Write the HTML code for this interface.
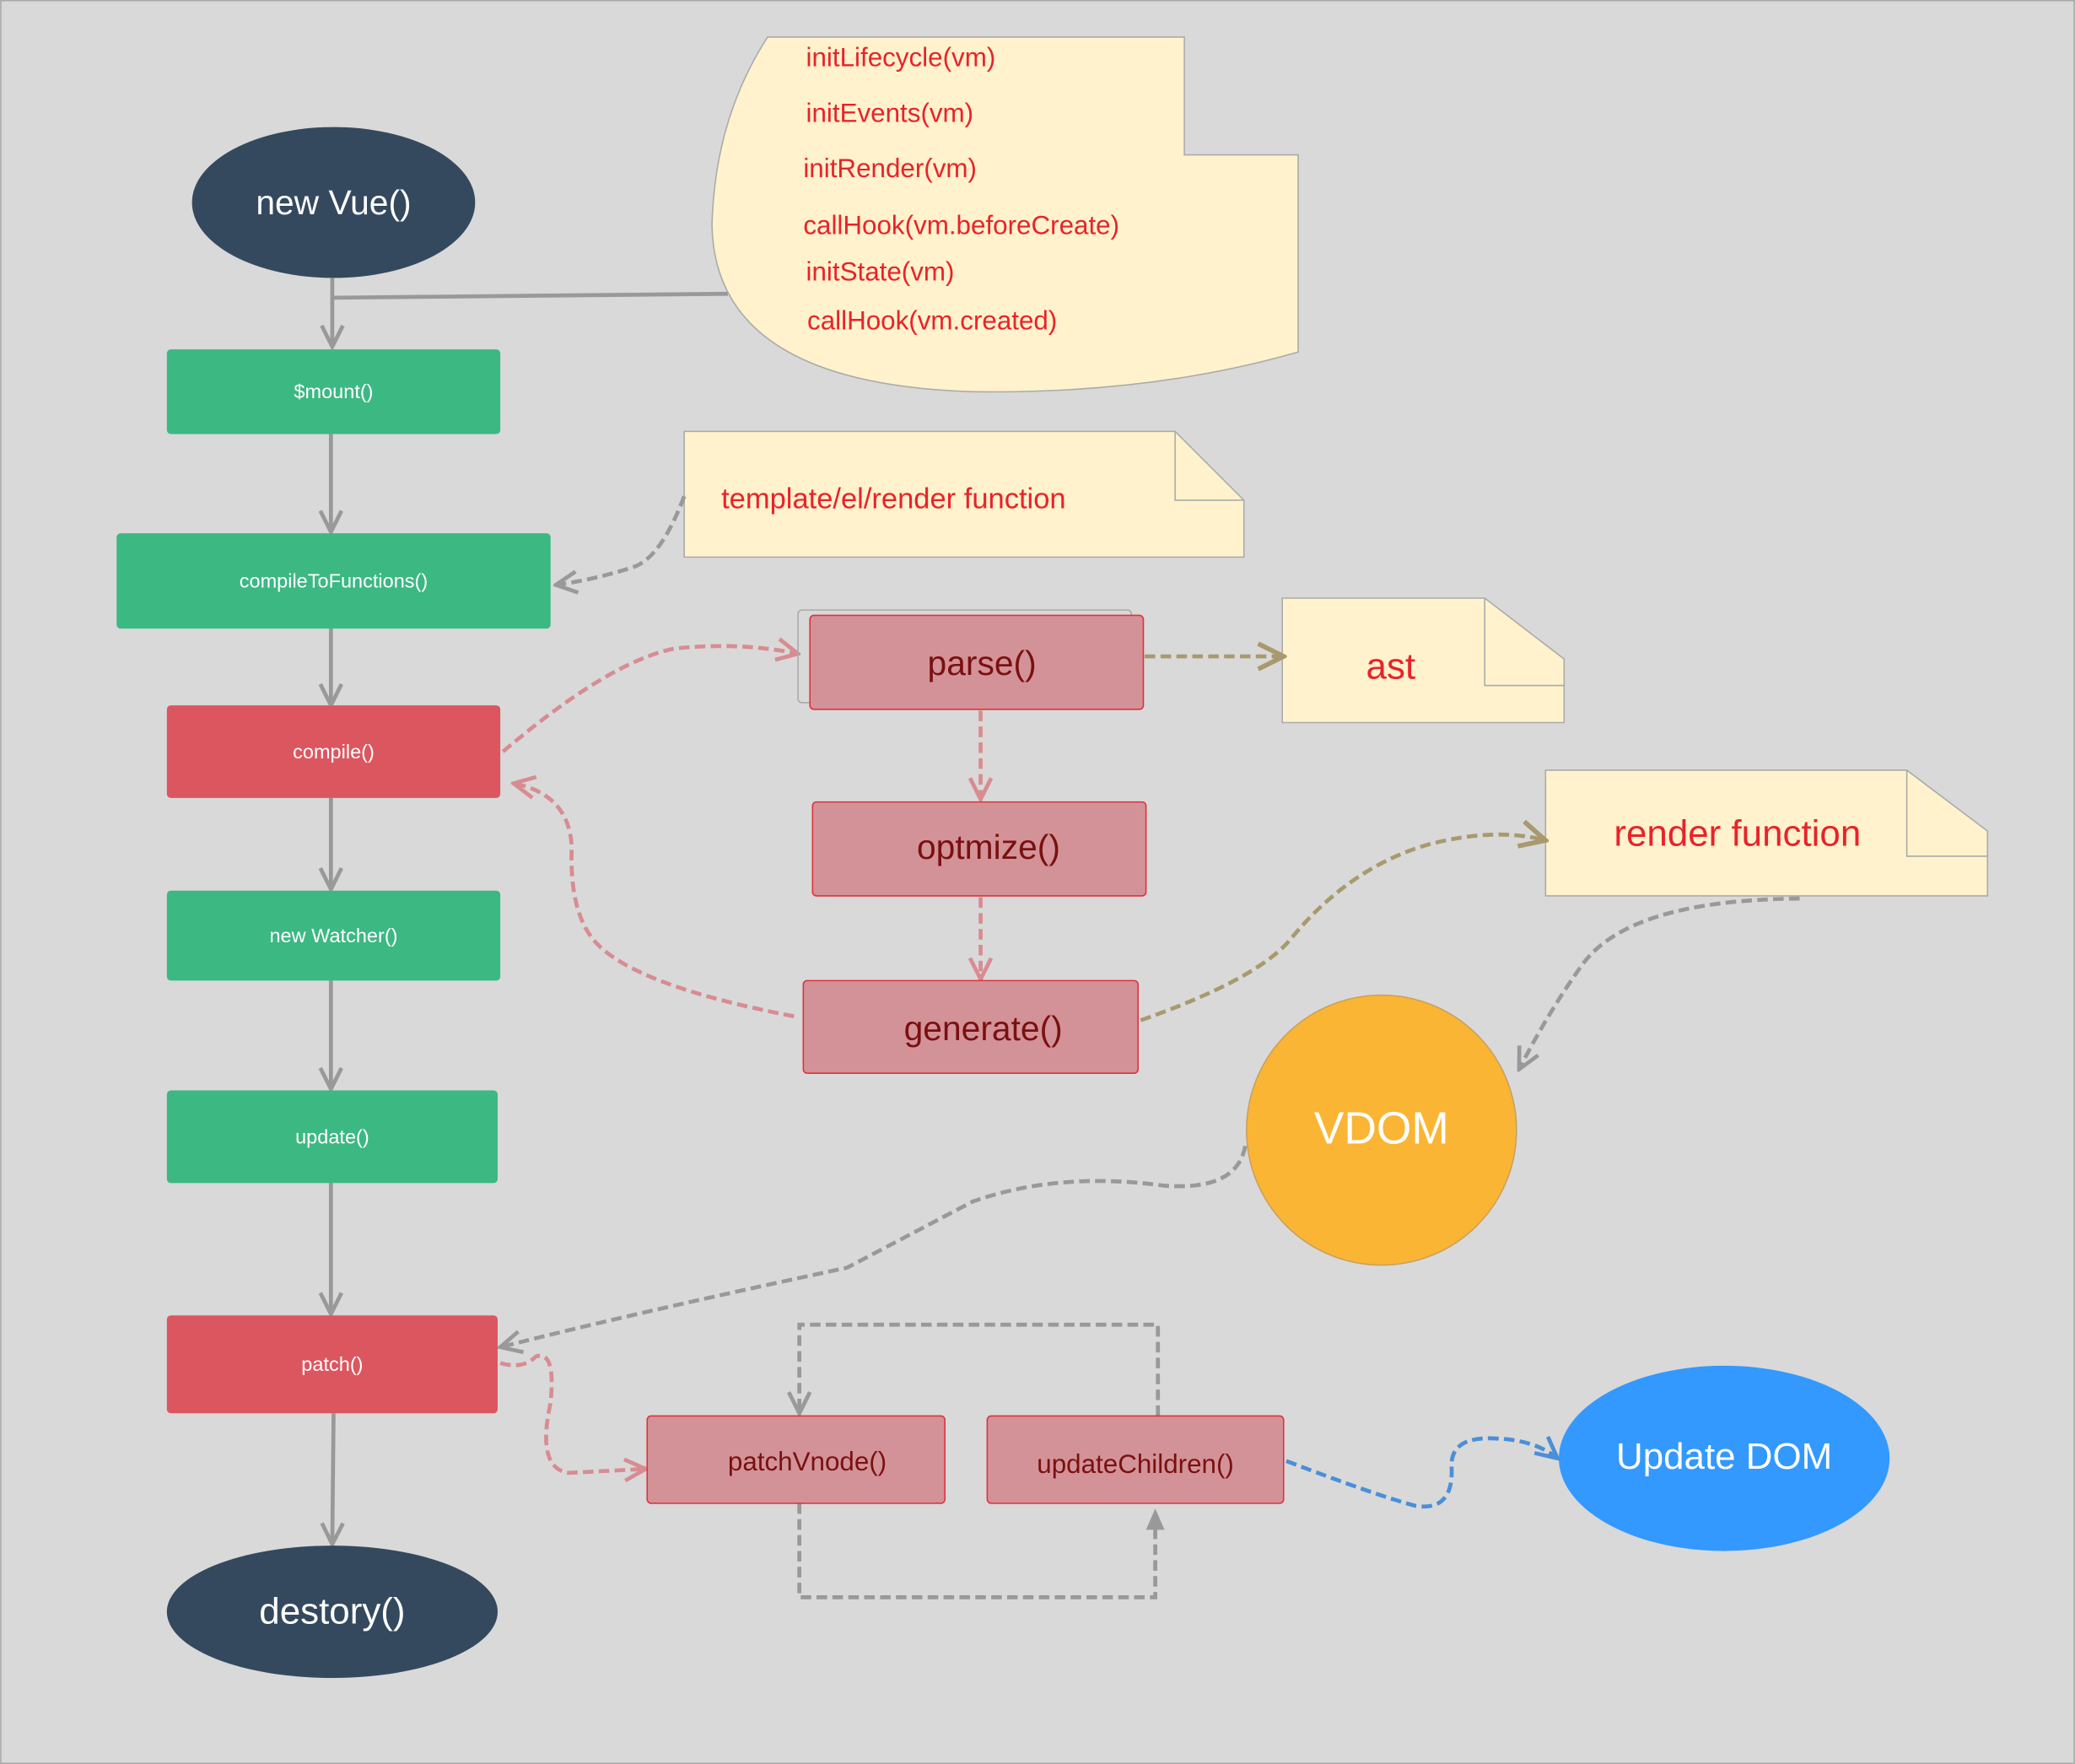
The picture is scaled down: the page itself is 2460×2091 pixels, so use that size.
<!DOCTYPE html>
<html><head><meta charset="utf-8"><style>
html,body{margin:0;padding:0;background:#d9d9d9;}
svg{display:block;}
text{font-family:"Liberation Sans","DejaVu Sans",sans-serif;}
</style></head><body>
<svg width="2460" height="2091" viewBox="0 0 1568 1333" xmlns="http://www.w3.org/2000/svg">
<defs>
<marker id="ag" viewBox="0 0 20 20" refX="18" refY="10" markerWidth="20" markerHeight="20" markerUnits="userSpaceOnUse" orient="auto"><path d="M2,2 L18,10 L2,18" fill="none" stroke="#999" stroke-width="3"/></marker>
<marker id="ar" viewBox="0 0 20 20" refX="18" refY="10" markerWidth="20" markerHeight="20" markerUnits="userSpaceOnUse" orient="auto"><path d="M2,2 L18,10 L2,18" fill="none" stroke="#d88c92" stroke-width="3"/></marker>
<marker id="ao" viewBox="0 0 20 20" refX="18" refY="10" markerWidth="24" markerHeight="24" markerUnits="userSpaceOnUse" orient="auto"><path d="M2,2 L18,10 L2,18" fill="none" stroke="#a89a6e" stroke-width="3"/></marker>
<marker id="ab" viewBox="0 0 20 20" refX="18" refY="10" markerWidth="20" markerHeight="20" markerUnits="userSpaceOnUse" orient="auto"><path d="M2,2 L18,10 L2,18" fill="none" stroke="#4a8fd8" stroke-width="3"/></marker>
<marker id="at" viewBox="0 0 20 20" refX="18" refY="10" markerWidth="20" markerHeight="20" markerUnits="userSpaceOnUse" orient="auto"><path d="M2,3 L18,10 L2,17 Z" fill="#999"/></marker>
</defs>
<rect x="0.5" y="0.5" width="1567" height="1332" fill="#d9d9d9" stroke="#aaa"/>

<!-- solid main flow -->
<g stroke="#999" stroke-width="3" fill="none">
<line x1="251" y1="210" x2="251" y2="262" marker-end="url(#ag)"/>
<line x1="251" y1="225" x2="550" y2="222"/>
<line x1="250" y1="328" x2="250" y2="402" marker-end="url(#ag)"/>
<line x1="250" y1="475" x2="250" y2="533" marker-end="url(#ag)"/>
<line x1="250" y1="603" x2="250" y2="672" marker-end="url(#ag)"/>
<line x1="250" y1="741" x2="250" y2="823" marker-end="url(#ag)"/>
<line x1="250" y1="894" x2="250" y2="993" marker-end="url(#ag)"/>
<line x1="252" y1="1068" x2="251" y2="1167" marker-end="url(#ag)"/>
</g>

<!-- big note -->
<path d="M580,28 L895,28 L895,117 L981,117 L981,266 Q870,298 735,296 Q540,290 538,170 Q540,90 580,28 Z" fill="#fff2cc" stroke="#aaa" stroke-width="1"/>
<g fill="#e8232a" font-size="20">
<text x="609" y="50">initLifecycle(vm)</text>
<text x="609" y="92">initEvents(vm)</text>
<text x="607" y="134">initRender(vm)</text>
<text x="607" y="177">callHook(vm.beforeCreate)</text>
<text x="609" y="212">initState(vm)</text>
<text x="610" y="249">callHook(vm.created)</text>
</g>

<!-- template note -->
<path d="M517,326 L888,326 L940,378 L940,421 L517,421 Z" fill="#fff2cc" stroke="#aaa"/>
<path d="M888,326 L888,378 L940,378" fill="none" stroke="#aaa"/>
<text x="545" y="384" font-size="22" fill="#e8232a">template/el/render function</text>

<!-- ast note -->
<path d="M969,452 L1122,452 L1182,498 L1182,546 L969,546 Z" fill="#fff2cc" stroke="#aaa"/>
<path d="M1122,452 L1122,518 L1182,518" fill="none" stroke="#aaa"/>
<text x="1051" y="513" font-size="28" fill="#e8232a" text-anchor="middle">ast</text>

<!-- render function note -->
<path d="M1168,582 L1441,582 L1502,628 L1502,677 L1168,677 Z" fill="#fff2cc" stroke="#aaa"/>
<path d="M1441,582 L1441,647 L1502,647" fill="none" stroke="#aaa"/>
<text x="1313" y="639" font-size="28" fill="#e8232a" text-anchor="middle">render function</text>

<!-- dashed connectors -->
<g fill="none" stroke-width="3" stroke-dasharray="8,4">
<path d="M517,375 Q500,420 480,428 Q450,438 420,442" stroke="#999" marker-end="url(#ag)"/>
<path d="M380,568 Q460,500 510,490 Q560,485 603,494" stroke="#d88c92" marker-end="url(#ar)"/>
<path d="M741,537 L741,604" stroke="#d88c92" marker-end="url(#ar)"/>
<path d="M741,678 L741,740" stroke="#d88c92" marker-end="url(#ar)"/>
<path d="M600,768 Q480,745 450,712 Q430,690 432,640 Q430,600 388,592" stroke="#d88c92" marker-end="url(#ar)"/>
<path d="M865,496 L970,496" stroke="#a89a6e" marker-end="url(#ao)"/>
<path d="M862,771 Q950,740 975,710 Q1020,655 1080,638 Q1130,625 1168,635" stroke="#a89a6e" marker-end="url(#ao)"/>
<path d="M1360,679 Q1230,680 1195,730 Q1170,765 1148,808" stroke="#999" marker-end="url(#ag)"/>
<path d="M941,866 Q935,900 880,896 Q800,885 735,908 L640,958 Q480,992 378,1018" stroke="#999" marker-end="url(#ag)"/>
<path d="M378,1030 Q395,1035 405,1025 Q420,1020 416,1060 Q405,1110 430,1113 L488,1110" stroke="#d88c92" marker-end="url(#ar)"/>
<path d="M875,1070 L875,1001 L604,1001 L604,1068" stroke="#999" marker-end="url(#ag)"/>
<path d="M604,1136 L604,1207 L873,1207 L873,1140" stroke="#999" marker-end="url(#at)"/>
<path d="M972,1104 Q1040,1130 1070,1138 Q1098,1142 1097,1110 Q1095,1085 1130,1087 Q1160,1088 1177,1102" stroke="#4a8fd8" marker-end="url(#ab)"/>
</g>

<!-- new Vue -->
<ellipse cx="252" cy="153" rx="107" ry="57" fill="#34495e"/>
<text x="252" y="162" font-size="26" fill="#fff" text-anchor="middle">new Vue()</text>

<!-- green / red main boxes -->
<g font-size="15" fill="#fff" text-anchor="middle">
<rect x="126" y="264" width="252" height="64" rx="3" fill="#3cb883"/>
<text x="252" y="301">$mount()</text>
<rect x="88" y="403" width="328" height="72" rx="3" fill="#3cb883"/>
<text x="252" y="444">compileToFunctions()</text>
<rect x="126" y="533" width="252" height="70" rx="3" fill="#dc5660"/>
<text x="252" y="573">compile()</text>
<rect x="126" y="673" width="252" height="68" rx="3" fill="#3cb883"/>
<text x="252" y="712">new Watcher()</text>
<rect x="126" y="824" width="250" height="70" rx="3" fill="#3cb883"/>
<text x="251" y="864">update()</text>
<rect x="126" y="994" width="250" height="74" rx="3" fill="#dc5660"/>
<text x="251" y="1036">patch()</text>
</g>

<!-- destory -->
<ellipse cx="251" cy="1218" rx="125" ry="50" fill="#34495e"/>
<text x="251" y="1227" font-size="28" fill="#fff" text-anchor="middle">destory()</text>

<!-- pink boxes -->
<rect x="603" y="461" width="252" height="70" rx="3" fill="none" stroke="#aaa"/>
<g fill="#d39297" stroke="#e0303a" stroke-width="1">
<rect x="612" y="465" width="252" height="71" rx="3"/>
<rect x="614" y="606" width="252" height="71" rx="3"/>
<rect x="607" y="741" width="253" height="70" rx="3"/>
<rect x="489" y="1070" width="225" height="66" rx="3"/>
<rect x="746" y="1070" width="224" height="66" rx="3"/>
</g>
<g fill="#7a1010" text-anchor="middle">
<text x="742" y="510" font-size="26">parse()</text>
<text x="747" y="649" font-size="26">optmize()</text>
<text x="743" y="786" font-size="26">generate()</text>
<text x="610" y="1111" font-size="20">patchVnode()</text>
<text x="858" y="1113" font-size="20">updateChildren()</text>
</g>

<!-- VDOM -->
<circle cx="1044" cy="854" r="102" fill="#fbb534" stroke="#c8a060" stroke-width="1"/>
<text x="1044" y="864" font-size="34" fill="#fff" text-anchor="middle">VDOM</text>

<!-- Update DOM -->
<ellipse cx="1303" cy="1102" rx="125" ry="70" fill="#3399ff"/>
<text x="1303" y="1110" font-size="28" fill="#fff" text-anchor="middle">Update DOM</text>
</svg>
</body></html>
